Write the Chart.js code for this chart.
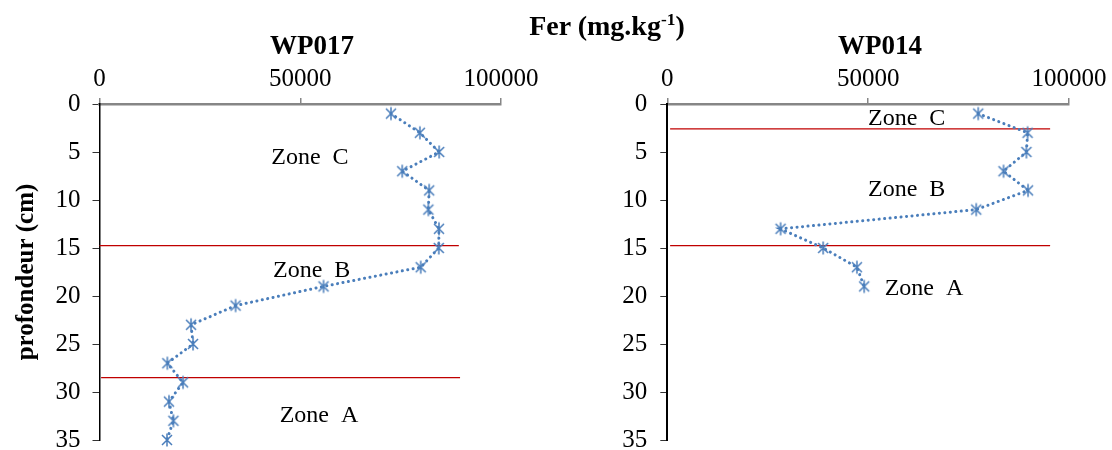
<!DOCTYPE html>
<html>
<head>
<meta charset="utf-8">
<script src="https://cdn.jsdelivr.net/npm/chart.js@4.4.1/dist/chart.umd.min.js"></script>
<style>
  body { margin: 0; background: #fff; }
  #page { position: relative; width: 1112px; height: 450px; overflow: hidden; font-family: "Liberation Serif", "Times New Roman", serif; }
  canvas { position: absolute; top: 0; }
  #wp017 { left: 0; }
  #wp014 { left: 560px; }
  .title { position: absolute; font-weight: bold; white-space: nowrap; transform: translate(-50%, -50%); line-height: 1; color: #000; }
  .title sup { font-size: 62%; vertical-align: 0.55em; line-height: 0; }
</style>
</head>
<body>
<div id="page">
  <canvas id="wp017" width="560" height="450"></canvas>
  <canvas id="wp014" width="552" height="450"></canvas>
  <div class="title" style="left:607px; top:26px; font-size:28px;">Fer (mg.kg<sup>-1</sup>)</div>
  <div class="title" style="left:312px; top:45px; font-size:27px;">WP017</div>
  <div class="title" style="left:880px; top:45px; font-size:27px;">WP014</div>
</div>
<script>
// depth (cm) and iron content (mg/kg)
var depthWP017 = [1, 3, 5, 7, 9, 11, 13, 15, 17, 19, 21, 23, 25, 27, 29, 31, 33, 35];
var ironWP017 = [72600, 79800, 84600, 75400, 82100, 81900, 84550, 84500, 80000, 55800, 33900, 22800, 23300, 16900, 20800, 17300, 18400, 16800];

var depthWP014 = [1, 3, 5, 7, 9, 11, 13, 15, 17, 19];
var ironWP014 = [77400, 89700, 89400, 83700, 89800, 76900, 28200, 38800, 47200, 49000];

// zone boundaries (red lines)
var boundaryDepthWP017 = [14.75, 28.5];
var boundaryStartWP017 = [0, 400];
var boundaryEndWP017 = [89500, 89800];

var boundaryDepthWP014 = [2.6, 14.75];
var boundaryStartWP014 = [700, 700];
var boundaryEndWP014 = [95300, 95300];

// zone labels
var zoneNames = ["Zone  C", "Zone  B", "Zone  A"];
var zoneXWP017 = [52400, 52850, 54670];
var zoneYWP017 = [5.58, 17.4, 32.45];
var zoneXWP014 = [59600, 59600, 63900];
var zoneYWP014 = [1.53, 8.9, 19.2];

var xTicks = [0, 50000, 100000];
var yTicks = [0, 5, 10, 15, 20, 25, 30, 35];

var serif = "'Liberation Serif', 'Times New Roman', serif";
var blue = "#4A7EBB";
var red = "#C00000";

function starMarker() {
  var c = document.createElement("canvas");
  c.width = 16; c.height = 16;
  var g = c.getContext("2d");
  g.strokeStyle = blue;
  g.lineWidth = 1.5;
  g.beginPath();
  g.moveTo(3, 3); g.lineTo(13, 13);
  g.moveTo(13, 3); g.lineTo(3, 13);
  g.moveTo(8, 1.5); g.lineTo(8, 14.5);
  g.stroke();
  return c;
}

var zoneLabelPlugin = {
  id: "zoneLabels",
  afterDatasetsDraw(chart, args, opts) {
    var ctx = chart.ctx;
    var xs = chart.scales.x, ys = chart.scales.y;
    ctx.save();
    ctx.fillStyle = "#000";
    ctx.font = "24px " + serif;
    ctx.textAlign = "center";
    ctx.textBaseline = "middle";
    opts.names.forEach((n, i) => {
      ctx.fillText(n, xs.getPixelForValue(opts.xs[i]), ys.getPixelForValue(opts.ys[i]));
    });
    ctx.restore();
  }
};

function makePanel(id, depth, iron, bDepth, bStart, bEnd, zx, zy, opt) {
  var datasets = [{
    data: iron.map((v, i) => ({ x: v, y: depth[i] })),
    borderColor: blue,
    borderWidth: 3,
    borderDash: [0.1, 5.4],
    borderCapStyle: "round",
    pointStyle: starMarker(),
    pointRadius: 7,
    clip: false,
    order: 0
  }];
  bDepth.forEach((d, i) => {
    datasets.push({
      data: [{ x: bStart[i], y: d }, { x: bEnd[i], y: d }],
      borderColor: red,
      borderWidth: 1.3,
      pointRadius: 0,
      clip: false,
      order: 1
    });
  });

  return new Chart(id, {
    type: "line",
    data: { datasets: datasets },
    options: {
      responsive: false,
      animation: false,
      layout: { padding: { left: 0, top: 0, right: opt.padRight, bottom: 9 } },
      plugins: {
        legend: { display: false },
        tooltip: { enabled: false },
        zoneLabels: { names: zoneNames, xs: zx, ys: zy }
      },
      scales: {
        x: {
          type: "linear",
          position: "top",
          min: 0,
          max: 100000,
          afterBuildTicks: s => { s.ticks = xTicks.map(v => ({ value: v })); },
          afterFit: s => { s.height = 104; s.paddingLeft = 0; s.paddingRight = 0; },
          ticks: {
            color: "#000",
            font: { family: serif, size: 25 },
            padding: 4,
            maxRotation: 0,
            callback: v => String(v)
          },
          grid: { drawOnChartArea: false, drawTicks: true, tickLength: 6, color: "#868686", lineWidth: 1.5 },
          border: { display: true, color: "#868686", width: 2.5 }
        },
        y: {
          type: "linear",
          reverse: true,
          min: 0,
          max: 35,
          afterBuildTicks: s => { s.ticks = yTicks.map(v => ({ value: v })); },
          afterFit: s => { s.width = opt.yWidth; s.paddingTop = 0; s.paddingBottom = 0; },
          ticks: {
            color: "#000",
            font: { family: serif, size: 25 },
            padding: opt.yPad
          },
          grid: { drawOnChartArea: false, drawTicks: true, tickLength: 7, color: "#333", lineWidth: 1 },
          border: { display: true, color: "#000", width: opt.yBorder },
          title: {
            display: opt.yTitle,
            text: "profondeur (cm)",
            color: "#000",
            font: { family: serif, size: 25, weight: "bold" },
            padding: { top: 12, bottom: 0 }
          }
        }
      }
    },
    plugins: [zoneLabelPlugin]
  });
}

makePanel("wp017", depthWP017, ironWP017, boundaryDepthWP017, boundaryStartWP017, boundaryEndWP017,
  zoneXWP017, zoneYWP017, { padRight: 59, yWidth: 99.5, yPad: 12, yBorder: 1.5, yTitle: true });

makePanel("wp014", depthWP014, ironWP014, boundaryDepthWP014, boundaryStartWP014, boundaryEndWP014,
  zoneXWP014, zoneYWP014, { padRight: 43, yWidth: 107.3, yPad: 13, yBorder: 2, yTitle: false });
</script>
</body>
</html>
